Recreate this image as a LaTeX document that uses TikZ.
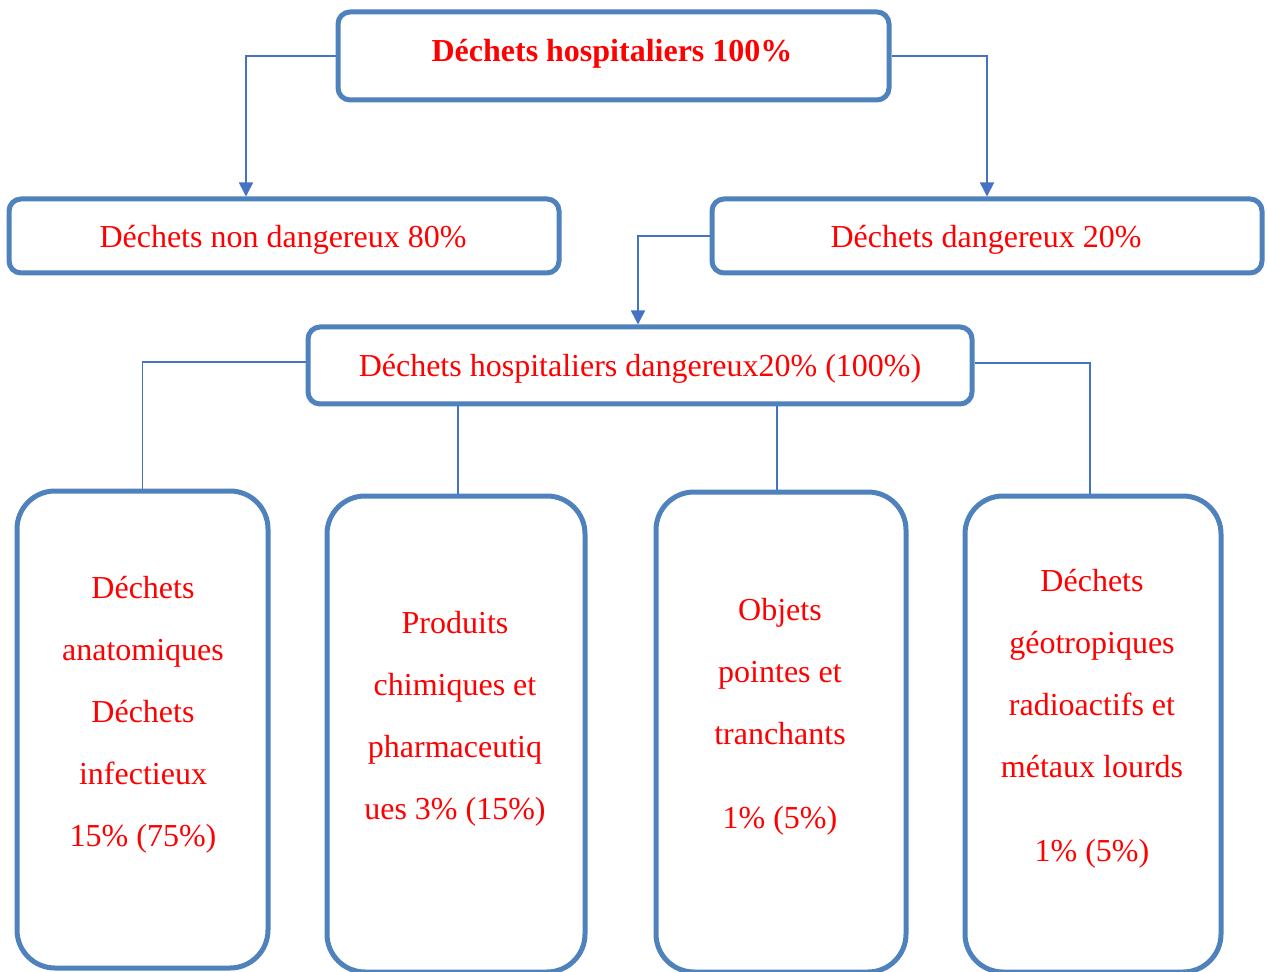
\documentclass[tikz,border=0pt]{standalone}
\usepackage{fontspec}
\setmainfont{Liberation Serif}
\usetikzlibrary{arrows.meta}
\definecolor{boxblue}{RGB}{79,129,189}
\definecolor{linkblue}{RGB}{70,114,196}
\definecolor{txtred}{RGB}{255,0,0}
\tikzset{
  box/.style={draw=boxblue, line width=2.5pt, rounded corners=6pt, fill=none},
  tallbox/.style={draw=boxblue, line width=2.5pt, rounded corners=19pt},
  txt/.style={text=txtred, font=\fontsize{16}{31}\selectfont, align=center, inner sep=0pt},
  link/.style={draw=linkblue, line width=0.8pt},
  arrowlink/.style={link, -{Triangle[length=7pt,width=7pt]}}
}
\begin{document}
\begin{tikzpicture}[x=0.5pt,y=-0.5pt]
\useasboundingbox (0,0) rectangle (1267,972);

% upper levels
\node[box, minimum width=275.5pt, minimum height=44pt] (top) at (613.5,56) {};
\node[txt, font=\bfseries\fontsize{16}{31}\selectfont] (toptxt) at (612,53.5) {Déchets hospitaliers 100\%};

\node[box, minimum width=275pt, minimum height=37pt] (nd) at (284,236) {};
\node[txt] (ndtxt) at (283,239.5) {Déchets non dangereux 80\%};

\node[box, minimum width=275pt, minimum height=37pt] (dg) at (987,236) {};
\node[txt] (dgtxt) at (986,239.5) {Déchets dangereux 20\%};

\node[box, minimum width=332pt, minimum height=38.5pt] (mid) at (640,365.5) {};
\node[txt] (midtxt) at (640,368.5) {Déchets hospitaliers dangereux20\% (100\%)};

% categories
\node[tallbox, minimum width=125.5pt, minimum height=238.5pt] (b1) at (142.5,729.5) {};
\node[tallbox, minimum width=129pt, minimum height=238pt] (b2) at (456,734) {};
\node[tallbox, minimum width=125pt, minimum height=240pt] (b3) at (781,732) {};
\node[tallbox, minimum width=128pt, minimum height=238pt] (b4) at (1093,734) {};

\node[txt] (t1) at (143,714.5) {Déchets\\anatomiques\\Déchets\\infectieux\\15\% (75\%)};
\node[txt] (t2) at (455,718.5) {Produits\\chimiques et\\pharmaceutiq\\ues 3\% (15\%)};
\node[txt] (t3) at (780,716.5) {Objets\\pointes et\\tranchants\\[11pt]1\% (5\%)};
\node[txt] (t4) at (1092,718.5) {Déchets\\géotropiques\\radioactifs et\\métaux lourds\\[11pt]1\% (5\%)};

% connectors
\draw[arrowlink] (top.west) -| ([xshift=-19pt]nd.north);
\draw[arrowlink] (top.east) -| (dg.north);
\draw[arrowlink] (dg.west) -| ([xshift=-1pt]mid.north);
\draw[link] ([yshift=1.7pt]mid.west) -| (b1.north);
\draw[link] ([xshift=1pt]b2.north |- mid.south) -- ([xshift=1pt]b2.north);
\draw[link] ([xshift=-2pt]b3.north |- mid.south) -- ([xshift=-2pt]b3.north);
\draw[link] ([yshift=1.2pt]mid.east) -| ([xshift=-1.5pt]b4.north);
\end{tikzpicture}
\end{document}
